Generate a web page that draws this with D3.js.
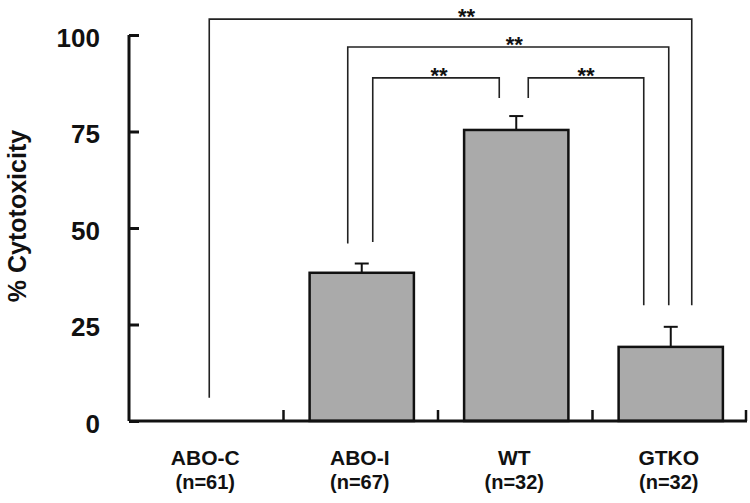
<!DOCTYPE html>
<html>
<head>
<meta charset="utf-8">
<script src="https://cdn.jsdelivr.net/npm/d3@7"></script>
<style>
  body { margin: 0; background: #fff; }
  text { font-family: Arial, "Liberation Sans", sans-serif; font-weight: bold; fill: #111; }
</style>
</head>
<body>
<div id="chart"></div>
<script>
'use strict'

// data
const categories = ['ABO-C', 'ABO-I', 'WT', 'GTKO']
const sampleSizes = ['(n=61)', '(n=67)', '(n=32)', '(n=32)']
const means = [0, 38.4, 75.4, 19.2]
const errors = [0, 2.4, 3.6, 5.2]
const yTicks = [0, 25, 50, 75, 100]

// significance brackets: from, to, bar level, leg ends (in % units), label
const brackets = [
  { from: 'ABO-C', to: 'GTKO', level: 104.1, fromEnd: 6, toEnd: 30, label: '**' },
  { from: 'ABO-I', to: 'GTKO', level: 96.9, fromEnd: 46, toEnd: 30, label: '**' },
  { from: 'ABO-I', to: 'WT', level: 88.9, fromEnd: 46.4, toEnd: 83.7, label: '**' },
  { from: 'WT', to: 'GTKO', level: 88.9, fromEnd: 83.7, toEnd: 30, label: '**' }
]

const width = 750, height = 503

const svg = d3.select('#chart').append('svg')
  .attr('width', width)
  .attr('height', height)

const x = d3.scaleBand()
  .domain(categories)
  .range([129, 747])
  .padding(0)

const y = d3.scaleLinear()
  .domain([0, 100])
  .range([421, 35])

const barW = x.bandwidth() * 0.675
const cx = c => x(c) + x.bandwidth() / 2 + 1

// bars
const bars = svg.append('g')
categories.forEach((c, i) => {
  if (means[i] <= 0) return
  bars.append('line')
    .attr('x1', cx(c)).attr('x2', cx(c))
    .attr('y1', y(means[i])).attr('y2', y(means[i] + errors[i]))
    .attr('stroke', '#111').attr('stroke-width', 2)
  bars.append('line')
    .attr('x1', cx(c) - 7).attr('x2', cx(c) + 7)
    .attr('y1', y(means[i] + errors[i])).attr('y2', y(means[i] + errors[i]))
    .attr('stroke', '#111').attr('stroke-width', 2)
  bars.append('rect')
    .attr('x', cx(c) - barW / 2)
    .attr('y', y(means[i]))
    .attr('width', barW)
    .attr('height', y(0) - y(means[i]))
    .attr('fill', '#aaaaaa')
    .attr('stroke', '#111')
    .attr('stroke-width', 2.5)
})

// y axis, ticks point inward
const yAxis = d3.axisLeft(y).tickValues(yTicks).tickSize(-10).tickPadding(0)
const gY = svg.append('g')
  .attr('transform', 'translate(129,0)')
  .call(yAxis)
gY.select('.domain').attr('d', `M0,${y(100)}V${y(0)}`).attr('stroke', '#111').attr('stroke-width', 3)
gY.selectAll('.tick line').attr('stroke', '#111').attr('stroke-width', 3)
gY.selectAll('.tick text')
  .attr('x', -29)
  .attr('dy', '0.44em')
  .style('font-size', '26px')
  .style('font-family', 'Arial, "Liberation Sans", sans-serif')
  .style('font-weight', 'bold')
  .attr('fill', '#111')

// x axis: ticks at category boundaries
const gX = svg.append('g')
gX.append('line')
  .attr('x1', 129).attr('x2', 747)
  .attr('y1', y(0)).attr('y2', y(0))
  .attr('stroke', '#111').attr('stroke-width', 3)
categories.slice(1).concat(['end']).forEach(c => {
  const bx = c === 'end' ? x.range()[1] - 1 : x(c)
  gX.append('line')
    .attr('x1', bx).attr('x2', bx)
    .attr('y1', y(0)).attr('y2', y(0) - 11)
    .attr('stroke', '#111').attr('stroke-width', 2.5)
})
categories.forEach((c, i) => {
  gX.append('text')
    .attr('x', cx(c) - 2)
    .attr('y', 465)
    .attr('text-anchor', 'middle')
    .style('font-size', '21px')
    .text(c)
  gX.append('text')
    .attr('x', cx(c) - 2)
    .attr('y', 489)
    .attr('text-anchor', 'middle')
    .style('font-size', '20px')
    .text(sampleSizes[i])
})

// y title
svg.append('text')
  .attr('transform', 'translate(26,216) rotate(-90)')
  .attr('text-anchor', 'middle')
  .style('font-size', '25px')
  .text('% Cytotoxicity')

// brackets
const legX = {
  'ABO-C': { right: 2 },
  'ABO-I': { right: -14, left: 11 },
  'WT': { left: -17, right: 12 },
  'GTKO': { left: -27, mid: -2, right: 21 }
}
function legOffset (b, side) {
  if (side === 'from') {
    if (b.from === 'ABO-C') return legX['ABO-C'].right
    if (b.from === 'ABO-I') return b.to === 'WT' ? legX['ABO-I'].left : legX['ABO-I'].right
    return legX.WT.right
  }
  if (b.to === 'WT') return legX.WT.left
  if (b.from === 'ABO-C') return legX.GTKO.right
  if (b.from === 'ABO-I') return legX.GTKO.mid
  return legX.GTKO.left
}
const starShift = [16, 6, 3, 0]
const gB = svg.append('g')
brackets.forEach((b, i) => {
  const x1 = cx(b.from) + legOffset(b, 'from')
  const x2 = cx(b.to) + legOffset(b, 'to')
  gB.append('path')
    .attr('d', `M${x1},${y(b.fromEnd)}V${y(b.level)}H${x2}V${y(b.toEnd)}`)
    .attr('fill', 'none')
    .attr('stroke', '#222')
    .attr('stroke-width', 1.6)
  gB.append('text')
    .attr('x', (x1 + x2) / 2 + starShift[i])
    .attr('y', y(b.level) + 5)
    .attr('text-anchor', 'middle')
    .style('font-size', '22px')
    .text(b.label)
})
</script>
</body>
</html>
